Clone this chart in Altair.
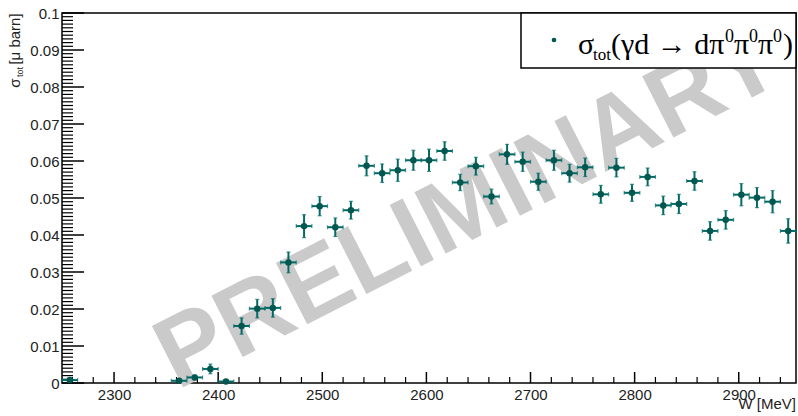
import altair as alt
import pandas as pd

# ---- data ----
W = [2257.5, 2362.5, 2377.5, 2392.5, 2407.5, 2422.5, 2437.5, 2452.5, 2467.5, 2482.5,
     2497.5, 2512.5, 2527.5, 2542.5, 2557.5, 2572.5, 2587.5, 2602.5, 2617.5, 2632.5,
     2647.5, 2662.5, 2677.5, 2692.5, 2707.5, 2722.5, 2737.5, 2752.5, 2767.5, 2782.5,
     2797.5, 2812.5, 2827.5, 2842.5, 2857.5, 2872.5, 2887.5, 2902.5, 2917.5, 2932.5,
     2947.5]
sigma = [0.0008, 0.0006, 0.0015, 0.0038, 0.0004, 0.0154, 0.0201, 0.0203, 0.0326, 0.0424,
         0.0478, 0.0421, 0.0467, 0.0587, 0.0567, 0.0575, 0.0602, 0.0602, 0.0627, 0.0542,
         0.0586, 0.0504, 0.0618, 0.0598, 0.0544, 0.0602, 0.0567, 0.0583, 0.0510, 0.0582,
         0.0514, 0.0557, 0.0480, 0.0484, 0.0546, 0.0411, 0.0441, 0.0509, 0.0501, 0.0490,
         0.0411]
sigma_err = [0.0005, 0.0004, 0.0006, 0.0013, 0.0005, 0.0022, 0.0025, 0.0025, 0.0028, 0.0031,
             0.0026, 0.0025, 0.0024, 0.0027, 0.0025, 0.0030, 0.0027, 0.0030, 0.0025, 0.0022,
             0.0024, 0.0020, 0.0027, 0.0026, 0.0023, 0.0027, 0.0024, 0.0025, 0.0024, 0.0025,
             0.0023, 0.0024, 0.0025, 0.0026, 0.0025, 0.0025, 0.0025, 0.0030, 0.0027, 0.0030,
             0.0033]
bin_half_width = 7.5

x_labels = [2300, 2400, 2500, 2600, 2700, 2800, 2900]
x_minor = [v for v in range(2260, 2955, 20) if v % 100 != 0]
y_labels = [round(0.01 * i, 2) for i in range(11)]
y_minor = [round(0.001 * i, 3) for i in range(101) if i % 10 != 0]

XDOM = [2250, 2955]
YDOM = [0, 0.1]
PW, PH = 734, 370
COL = "#006b66"
DOT = "#00574f"
FONT = "Arial"
SERIF = "Times New Roman"

df = pd.DataFrame({"W": W, "s": sigma, "e": sigma_err})
df["lo"] = df["s"] - df["e"]
df["hi"] = df["s"] + df["e"]
df["wl"] = df["W"] - bin_half_width
df["wh"] = df["W"] + bin_half_width

xs = alt.Scale(domain=XDOM, nice=False, zero=False)
ys = alt.Scale(domain=YDOM, nice=False, zero=False)
xax = alt.Axis(values=x_labels, format="d", ticks=False, domain=False, grid=False,
               labelFont=FONT, labelFontSize=15, labelColor="#222", labelPadding=4,
               title=None, labelFlush=False)
yax = alt.Axis(values=y_labels, format=".2~f", ticks=False, domain=False, grid=False,
               labelFont=FONT, labelFontSize=15, labelColor="#222", labelPadding=3,
               title=None, labelFlush=False)

one = pd.DataFrame({"a": [0]})
base = alt.Chart(df)


def X(f):
    return alt.X(f, scale=xs, axis=xax, title=None)


def Y(f):
    return alt.Y(f, scale=ys, axis=yax, title=None)


watermark = alt.Chart(one).mark_text(
    text="PRELIMINARY", font=FONT, fontWeight="bold", fontSize=100,
    color="#cacaca", angle=333, align="center", baseline="middle"
).encode(x=alt.value(469 - 62), y=alt.value(208 - 13))

xerr = base.mark_rule(color=COL, strokeWidth=2).encode(x=X("wl:Q"), x2="wh:Q", y=Y("s:Q"))
yerr = base.mark_rule(color=COL, strokeWidth=2).encode(x=X("W:Q"), y=Y("lo:Q"), y2="hi:Q")
capy_lo = base.mark_tick(color=COL, size=4, thickness=1.2, orient="horizontal").encode(x=X("W:Q"), y=Y("lo:Q"))
capy_hi = base.mark_tick(color=COL, size=4, thickness=1.2, orient="horizontal").encode(x=X("W:Q"), y=Y("hi:Q"))
capx_lo = base.mark_tick(color=COL, size=4, thickness=1.2, orient="vertical").encode(x=X("wl:Q"), y=Y("s:Q"))
capx_hi = base.mark_tick(color=COL, size=4, thickness=1.2, orient="vertical").encode(x=X("wh:Q"), y=Y("s:Q"))
points = base.mark_circle(color=DOT, opacity=1, size=42).encode(x=X("W:Q"), y=Y("s:Q"))

# inward axis ticks
xmaj = alt.Chart(pd.DataFrame({"t": x_labels})).mark_rule(color="black", strokeWidth=1.5).encode(
    x=X("t:Q"), y=alt.value(PH), y2=alt.value(PH - 11))
xmin = alt.Chart(pd.DataFrame({"t": x_minor})).mark_rule(color="black", strokeWidth=1.2).encode(
    x=X("t:Q"), y=alt.value(PH), y2=alt.value(PH - 6))
ymaj = alt.Chart(pd.DataFrame({"t": y_labels})).mark_rule(color="black", strokeWidth=1.5).encode(
    y=Y("t:Q"), x=alt.value(0), x2=alt.value(22))
ymin = alt.Chart(pd.DataFrame({"t": y_minor})).mark_rule(color="black", strokeWidth=1.2).encode(
    y=Y("t:Q"), x=alt.value(0), x2=alt.value(11))

# legend box
leg_box = alt.Chart(one).mark_rect(fill="white", stroke="black", strokeWidth=1.5).encode(
    x=alt.value(521 - 62), x2=alt.value(PW), y=alt.value(0), y2=alt.value(55))
leg_dot = alt.Chart(one).mark_circle(color=DOT, opacity=1, size=22).encode(
    x=alt.value(554 - 62), y=alt.value(40 - 13))

# legend label pieces: (text, left x, baseline y, size)
leg_pieces = [
    ("σ", 578, 54, 30),
    ("tot", 593, 60, 17),
    ("(γd → dπ", 611, 54, 30),
    ("0", 725, 42, 18),
    ("π", 734, 54, 30),
    ("0", 749, 42, 18),
    ("π", 758, 54, 30),
    ("0", 773, 42, 18),
    (")", 783, 54, 30),
]
leg_layers = []
for txt, lx, by, fs in leg_pieces:
    leg_layers.append(
        alt.Chart(one).mark_text(text=txt, font=SERIF, fontSize=fs, align="left",
                                 baseline="alphabetic", color="black").encode(
            x=alt.value(lx - 62), y=alt.value(by - 13)))

# axis titles
yt_sig = alt.Chart(one).mark_text(text="σ", font=FONT, fontSize=15, angle=270, align="center",
                                  baseline="middle", color="#222").encode(
    x=alt.value(15 - 62), y=alt.value(83 - 13))
yt_tot = alt.Chart(one).mark_text(text="tot", font=FONT, fontSize=9, angle=270, align="center",
                                  baseline="middle", color="#222").encode(
    x=alt.value(20 - 62), y=alt.value(72 - 13))
yt_unit = alt.Chart(one).mark_text(text="[μ barn]", font=FONT, fontSize=15, angle=270, align="center",
                                   baseline="middle", color="#222").encode(
    x=alt.value(15 - 62), y=alt.value(39 - 13))
xt = alt.Chart(one).mark_text(text="W [MeV]", font=FONT, fontSize=15, align="right",
                              baseline="alphabetic", color="#222").encode(
    x=alt.value(796 - 62), y=alt.value(409 - 13))

chart = alt.layer(
    watermark, xmaj, xmin, ymaj, ymin,
    xerr, yerr, capy_lo, capy_hi, capx_lo, capx_hi, points,
    leg_box, leg_dot, *leg_layers,
    yt_sig, yt_tot, yt_unit, xt,
).properties(
    width=PW, height=PH,
    autosize=alt.AutoSizeParams(type="none"),
    padding={"left": 62, "top": 13, "right": 2, "bottom": 33},
    background="white",
).configure_view(stroke="black", strokeWidth=1.5)

chart.save("out.html", embed_options={"renderer": "svg", "actions": False})
